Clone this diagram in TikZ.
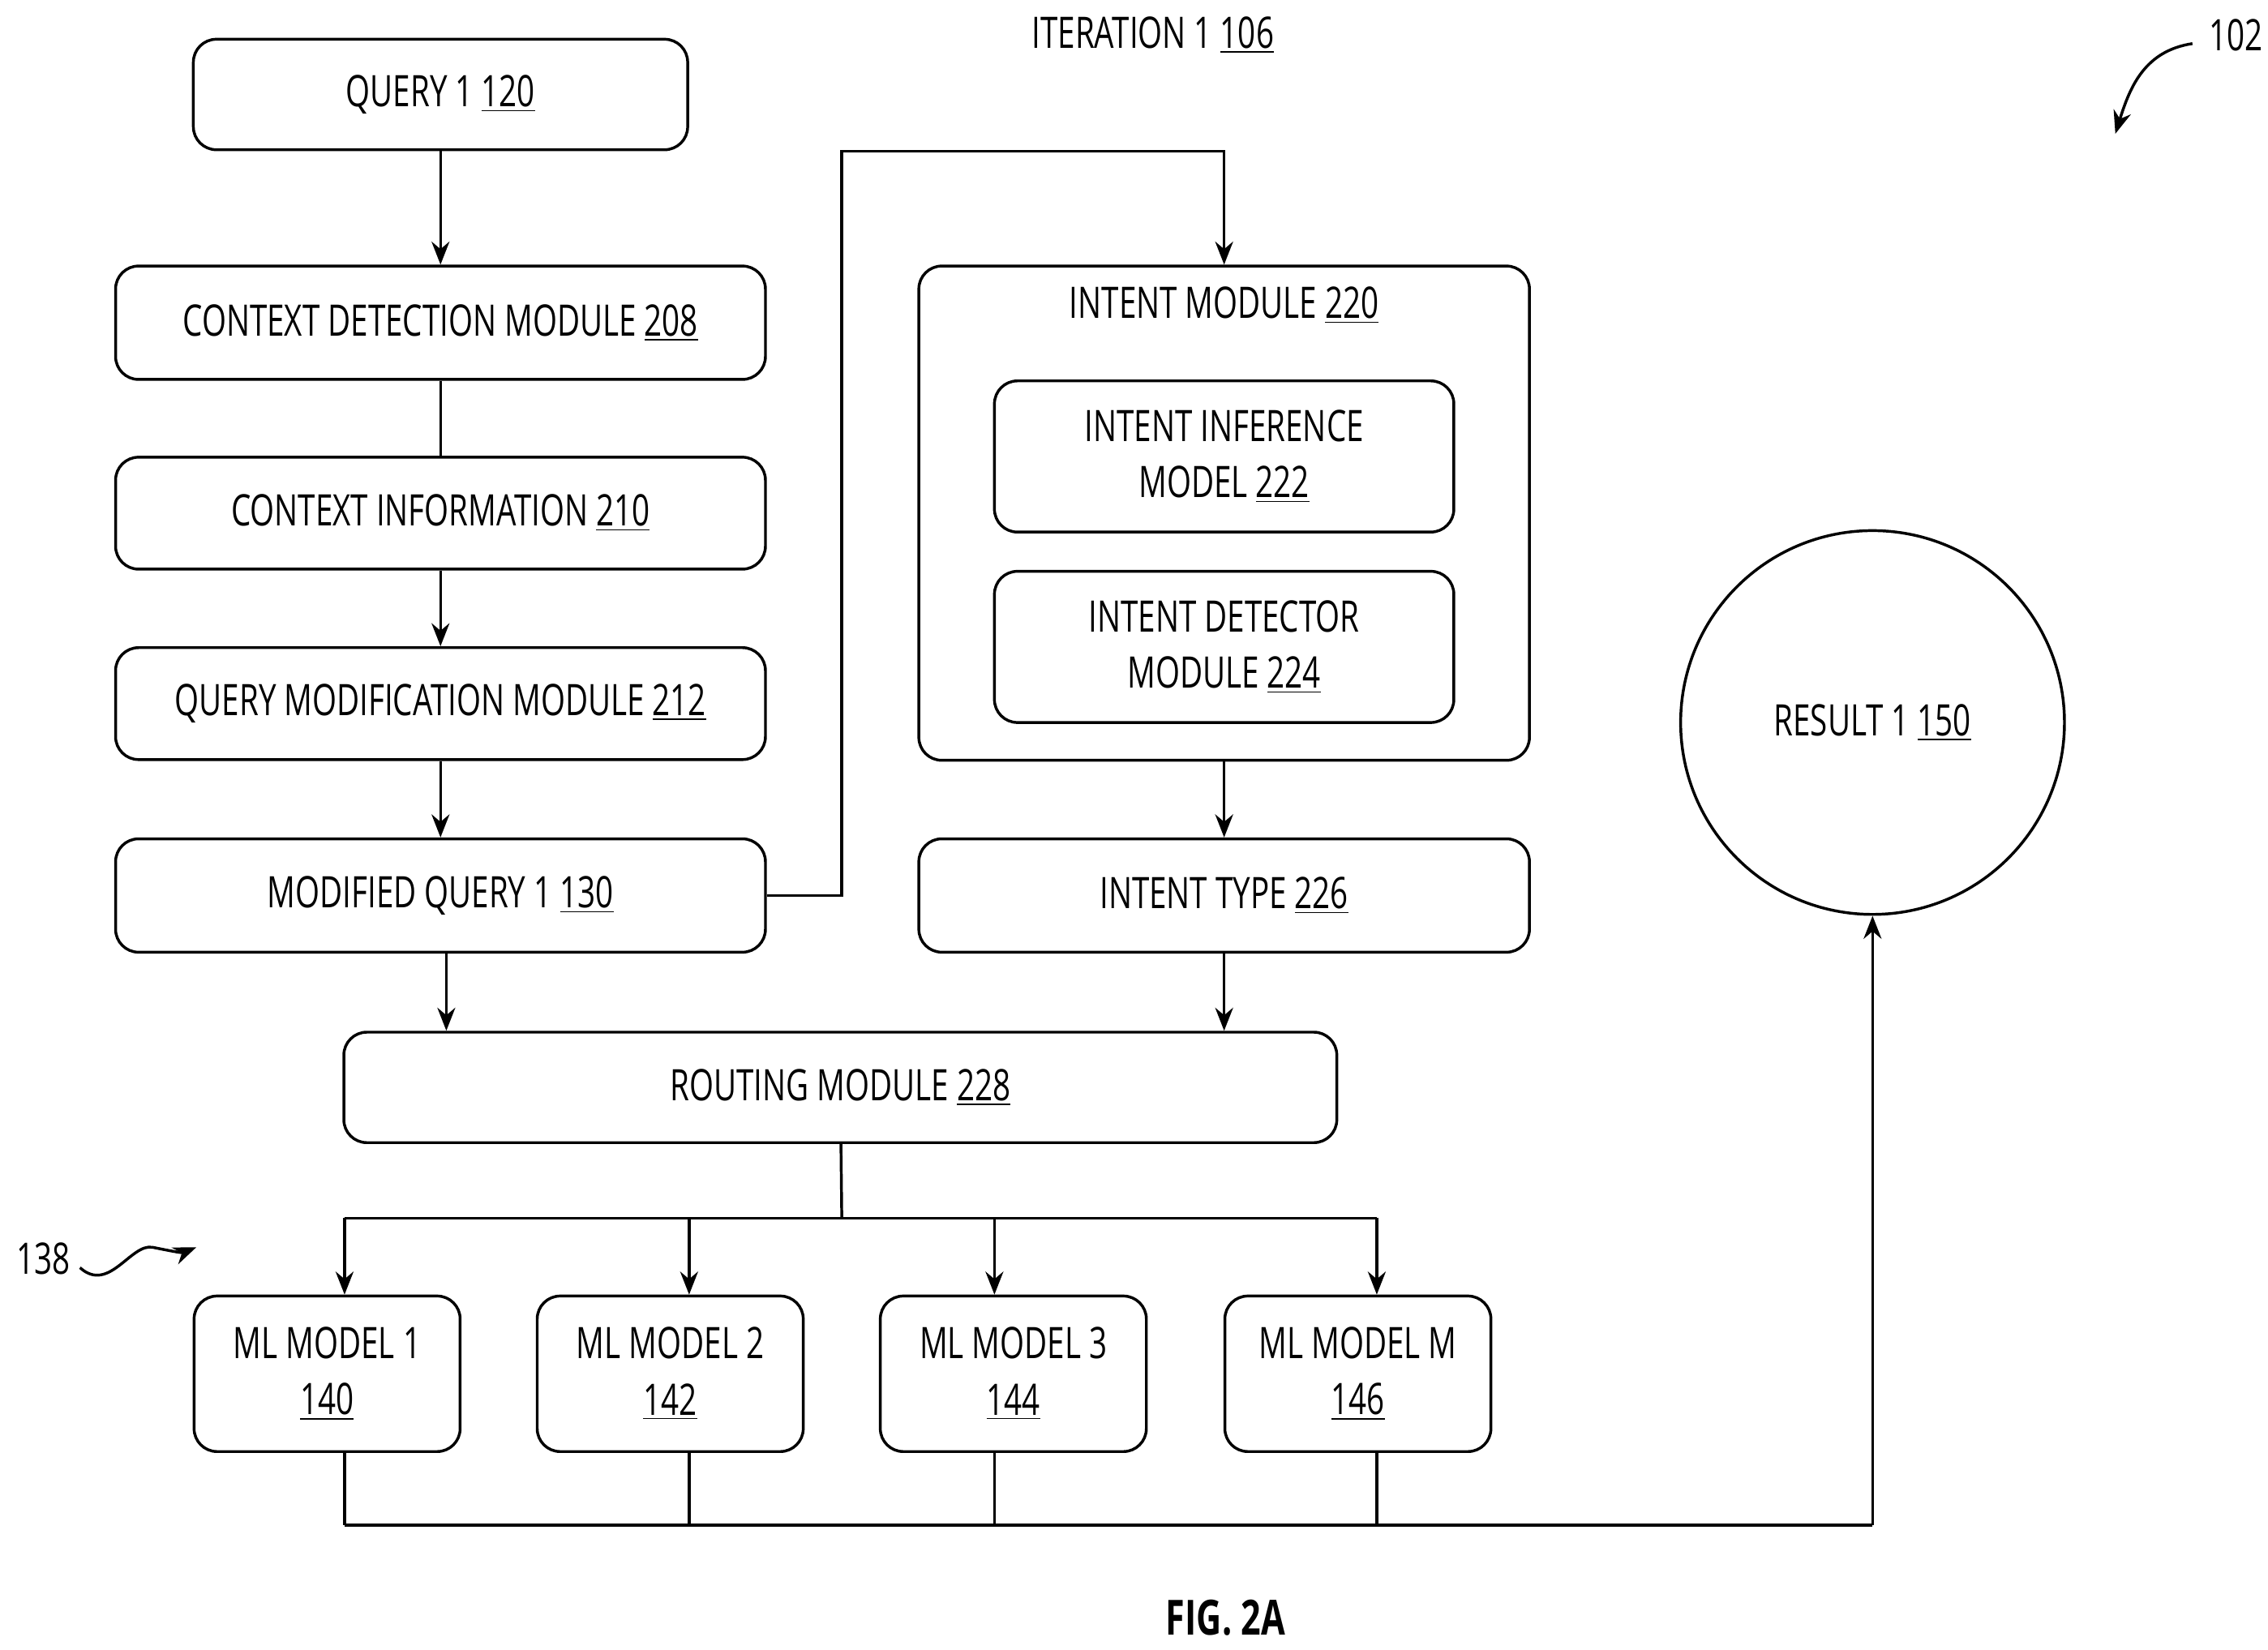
\documentclass[tikz,border=0pt]{standalone}
\usepackage{fontspec}
\setmainfont{Open Sans}[FakeStretch=0.72]
\usetikzlibrary{positioning, arrows.meta}
\tikzset{
  blk/.style={draw, rounded corners=9pt, line width=1.1pt, align=center, inner sep=0pt, font=\fontsize{17}{22}\selectfont},
  lbl/.style={font=\fontsize{17}{22}\selectfont, inner sep=0pt},
  arr/.style={-{Stealth[length=9pt,width=7pt]}, line width=1.1pt},
  ln/.style={line width=1.1pt}
}
\newcommand{\num}[1]{\underline{#1}}
\begin{document}
\begin{tikzpicture}[x=0.02cm, y=-0.02cm]
  \useasboundingbox (0,0) rectangle (1560,1135);
  % Define the nodes
  \node[blk, minimum width=340*0.02cm, minimum height=76*0.02cm] (q1) at (303,65) {QUERY 1 \num{120}};
  \node[blk, minimum width=447*0.02cm, minimum height=78*0.02cm] (cdm) at (303,222) {CONTEXT DETECTION MODULE \num{208}};
  \node[blk, minimum width=447*0.02cm, minimum height=77*0.02cm] (ci) at (303,353) {CONTEXT INFORMATION \num{210}};
  \node[blk, minimum width=447*0.02cm, minimum height=77*0.02cm] (qmm) at (303,484) {QUERY MODIFICATION MODULE \num{212}};
  \node[blk, minimum width=447*0.02cm, minimum height=78*0.02cm] (mq) at (303,616) {MODIFIED QUERY 1 \num{130}};
  \node[blk, minimum width=420*0.02cm, minimum height=340*0.02cm] (im) at (842,353) {};
  \node[lbl] (imt) at (842,210) {INTENT MODULE \num{220}};
  \node[blk, minimum width=316*0.02cm, minimum height=104*0.02cm] (iim) at (842,314) {INTENT INFERENCE\\MODEL \num{222}};
  \node[blk, minimum width=316*0.02cm, minimum height=104*0.02cm] (idm) at (842,445) {INTENT DETECTOR\\MODULE \num{224}};
  \node[blk, minimum width=420*0.02cm, minimum height=78*0.02cm] (it) at (842,616) {INTENT TYPE \num{226}};
  \node[blk, minimum width=683*0.02cm, minimum height=76*0.02cm] (rm) at (578,748) {ROUTING MODULE \num{228}};
  \node[blk, minimum width=183*0.02cm, minimum height=107*0.02cm] (ml1) at (225,945) {ML MODEL 1\\\num{140}};
  \node[blk, minimum width=183*0.02cm, minimum height=107*0.02cm] (ml2) at (461,945) {ML MODEL 2\\\num{142}};
  \node[blk, minimum width=183*0.02cm, minimum height=107*0.02cm] (ml3) at (697,945) {ML MODEL 3\\\num{144}};
  \node[blk, minimum width=183*0.02cm, minimum height=107*0.02cm] (mlm) at (934,945) {ML MODEL M\\\num{146}};
  \node[blk, circle, minimum size=264*0.02cm] (res) at (1288,497) {RESULT 1 \num{150}};
  \node[lbl] (iter) at (793,24) {ITERATION 1 \num{106}};
  \node[lbl] (r102) at (1538,24) {102};
  \node[lbl] (r138) at (30,866) {138};
  \node[font=\bfseries\fontsize{19}{22}\selectfont] (fig) at (843,1113) {FIG. 2A};
  \coordinate (split) at (579,838);
  \coordinate (join) at (1288,1049);
  % Define the connectors
  \draw[arr] (q1) -- (cdm);
  \draw[ln] (cdm) -- (ci);
  \draw[arr] (ci) -- (qmm);
  \draw[arr] (qmm) -- (mq);
  \draw[arr] (mq.east) -| (579,104) -| (im.north);
  \draw[arr] (im) -- (it);
  \draw[arr] (mq.south -| 307,0) -- (rm.north -| 307,0);
  \draw[arr] (it) -- (rm.north -| it);
  \draw[ln] (rm) -- (split);
  \draw[ln] (237,838) -- (947,838);
  \foreach \x/\m in {237/ml1, 474/ml2, 684/ml3, 947/mlm} {
    \draw[arr] (\x,838) -- (\m.north -| \x,0);
    \draw[ln] (\m.south -| \x,0) -- (\x,1049);
  }
  \draw[ln] (237,1049) -- (join);
  \draw[arr] (join) -- (res);
  \draw[arr] (1508,30) .. controls (1475,35) and (1465,60) .. (1455,92);
  \draw[arr] (55,872) .. controls (75,890) and (90,855) .. (105,858) .. controls (115,860) and (125,862) .. (135,858);
\end{tikzpicture}
\end{document}
